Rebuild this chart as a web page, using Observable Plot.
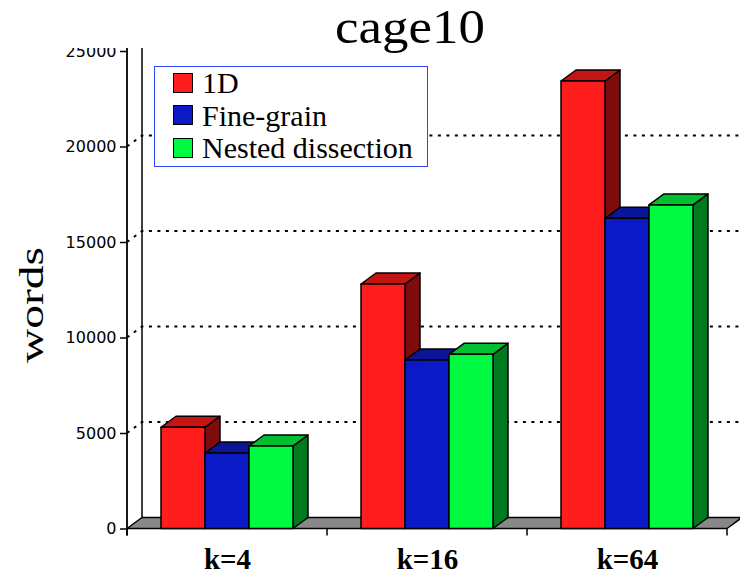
<!DOCTYPE html>
<html>
<head>
<meta charset="utf-8">
<script src="https://cdn.jsdelivr.net/npm/d3@7"></script>
<script src="https://cdn.jsdelivr.net/npm/@observablehq/plot@0.6"></script>
<style>
  html, body { margin: 0; padding: 0; background: #fff; }
  #wrap { position: relative; width: 740px; height: 574px; overflow: hidden; }
  #chart { position: absolute; left: 0; top: 0; }
  #cover {
    position: absolute; left: 0; top: 0; width: 740px; height: 48px; background: #fff;
  }
  #title {
    position: absolute; left: 410px; top: 2px;
    font: 49px/1 "Liberation Serif", "Times New Roman", serif;
    transform: translateX(-50%) scaleX(1.08); white-space: nowrap;
  }
  #legend {
    position: absolute; left: 154px; top: 66px; width: 272px; height: 99px;
    border: 1.5px solid #2b45ff; background: #fff;
  }
  .row { position: absolute; left: 0; height: 32px; width: 270px; }
  .swatch {
    position: absolute; left: 18px; width: 18px; height: 18px;
    border: 1.5px solid #000;
  }
  .label {
    position: absolute; left: 47px; top: 0;
    font: 30px/32px "Liberation Serif", "Times New Roman", serif; white-space: nowrap;
  }
  svg .vtick text { font: 16px "DejaVu Sans", Verdana, sans-serif; }
</style>
</head>
<body>
<div id="wrap">
  <div id="chart"></div>
  <div id="cover"></div>
  <div id="title">cage10</div>
  <div id="legend"></div>
</div>
<script>
// Problem sizes and partitioning methods
const groups = ["k=4", "k=16", "k=64"];
const methods = ["1D", "Fine-grain", "Nested dissection"];

// Communication volume (words) per method, one value per k
const words1D = [5300, 12800, 23430];
const wordsFineGrain = [3950, 8820, 16240];
const wordsNested = [4320, 9120, 16940];

const yTicks = [0, 5000, 10000, 15000, 20000, 25000];
const gridTicks = [5000, 10000, 15000, 20000];

// Face colours: front, top, side
const frontColors = ["#ff1c1c", "#0b1ac6", "#00fa42"];
const topColors = ["#c41414", "#0a1597", "#00bf30"];
const sideColors = ["#7f0c0c", "#060d60", "#007a1e"];

const rows = [];
[words1D, wordsFineGrain, wordsNested].forEach((vals, m) =>
  vals.forEach((v, g) => rows.push({k: groups[g], method: methods[m], m, words: v}))
);

// Layout
const WIDTH = 740, HEIGHT = 574;
const ML = 127, MR = 13, MT = 51, MB = 45.5;
const BAND = (WIDTH - ML - MR) / groups.length;
const BAR_W = 44;
const DX = 15, DY = -11; // oblique depth of the 3-D projection

const svgNS = "http://www.w3.org/2000/svg";
function poly(points, fill) {
  const p = document.createElementNS(svgNS, "polygon");
  p.setAttribute("points", points.map((d) => d.join(",")).join(" "));
  p.setAttribute("fill", fill);
  p.setAttribute("stroke", "#000");
  p.setAttribute("stroke-width", 1.5);
  p.setAttribute("stroke-linejoin", "round");
  return p;
}

// Adds the top and right-hand side faces behind each front rectangle
function solid(topFill, sideFill) {
  return function (index, scales, values, dimensions, context, next) {
    const g = next(index, scales, values, dimensions, context);
    g.querySelectorAll("rect").forEach((rect) => {
      const x0 = +rect.getAttribute("x");
      const y0 = +rect.getAttribute("y");
      const w = +rect.getAttribute("width");
      const h = +rect.getAttribute("height");
      const x1 = x0 + w, yb = y0 + h;
      const side = poly([[x1, yb], [x1, y0], [x1 + DX, y0 + DY], [x1 + DX, yb + DY]], sideFill);
      const top = poly([[x0, y0], [x1, y0], [x1 + DX, y0 + DY], [x0 + DX, y0 + DY]], topFill);
      rect.parentNode.insertBefore(side, rect);
      rect.parentNode.insertBefore(top, rect);
    });
    return g;
  };
}

// Floor, back wall, dotted back gridlines and the front axes
function backdrop(index, {x, y}, values, {width, marginLeft, marginRight}) {
  const g = d3.create("svg:g");
  const left = marginLeft, right = width - marginRight;
  const y0 = y(0);
  g.append("polygon")
    .attr("points", [[left, y0], [right, y0], [right + DX, y0 + DY], [left + DX, y0 + DY]].map((d) => d.join(",")).join(" "))
    .attr("fill", "#888")
    .attr("stroke", "#000")
    .attr("stroke-width", 1.5)
    .attr("stroke-linejoin", "round");
  for (const t of gridTicks) {
    const yt = y(t);
    g.append("path")
      .attr("d", `M${left},${yt}L${left + DX},${yt + DY}L${right + DX},${yt + DY}`)
      .attr("fill", "none")
      .attr("stroke", "#000")
      .attr("stroke-width", 2)
      .attr("stroke-dasharray", "3,5.5");
  }
  // back wall edge
  g.append("line")
    .attr("x1", left + DX).attr("x2", left + DX)
    .attr("y1", y0 + DY).attr("y2", y(yTicks[yTicks.length - 1]) + DY)
    .attr("stroke", "#000").attr("stroke-width", 1.5);
  // front value axis
  g.append("line")
    .attr("x1", left).attr("x2", left)
    .attr("y1", y0 + 7).attr("y2", y(yTicks[yTicks.length - 1]) - 4)
    .attr("stroke", "#000").attr("stroke-width", 1.8);
  // category boundaries on the front edge
  const bounds = groups.map((k) => x(k)).concat([x(groups[groups.length - 1]) + x.bandwidth()]);
  for (const b of bounds) {
    g.append("line")
      .attr("x1", b).attr("x2", b).attr("y1", y0).attr("y2", y0 + 7)
      .attr("stroke", "#000").attr("stroke-width", 1.5);
  }
  return g.node();
}

const barMarks = methods.map((name, m) => {
  const insetLeft = (BAND - methods.length * BAR_W) / 2 + m * BAR_W;
  return Plot.barY(rows.filter((d) => d.m === m), {
    x: "k",
    y: "words",
    fill: frontColors[m],
    stroke: "#000",
    strokeWidth: 1.5,
    strokeLinejoin: "round",
    insetLeft,
    insetRight: BAND - insetLeft - BAR_W,
    render: solid(topColors[m], sideColors[m])
  });
});

const chart = Plot.plot({
  width: WIDTH,
  height: HEIGHT,
  marginLeft: ML,
  marginRight: MR,
  marginTop: MT,
  marginBottom: MB,
  style: {fontFamily: "DejaVu Sans", background: "#fff", overflow: "visible"},
  x: {type: "band", domain: groups, padding: 0, label: null},
  y: {domain: [0, 25000], label: null},
  marks: [
    backdrop,
    Plot.axisY({
      ticks: yTicks,
      tickFormat: d3.format("d"),
      tickSize: 7,
      tickPadding: 4,
      strokeWidth: 1.5,
      className: "vtick",
      label: null
    }),
    Plot.axisX({
      tickSize: 0,
      tickPadding: 19,
      fontSize: 29,
      fontWeight: "bold",
      fontFamily: "Liberation Serif",
      label: null
    }),
    ...barMarks
  ]
});

// numeric tick labels: larger sans face
chart.querySelectorAll("text").forEach((t) => {
  if (/^\d+$/.test(t.textContent.trim())) {
    t.setAttribute("font-size", "16");
    t.style.fontSize = "16px";
    t.style.fontFamily = "'DejaVu Sans', sans-serif";
  }
});

// rotated value-axis title
d3.select(chart).append("text")
  .attr("transform", "translate(43,305) rotate(-90)")
  .attr("text-anchor", "middle")
  .attr("font-family", "Liberation Serif")
  .attr("font-size", 33)
  .attr("textLength", 116)
  .attr("lengthAdjust", "spacingAndGlyphs")
  .attr("fill", "#000")
  .text("words");

document.getElementById("chart").appendChild(chart);

// legend
const legend = document.getElementById("legend");
const rowTops = [0, 32.5, 65];
methods.forEach((name, m) => {
  const row = document.createElement("div");
  row.className = "row";
  row.style.top = rowTops[m] + "px";
  const sw = document.createElement("div");
  sw.className = "swatch";
  sw.style.top = "5.5px";
  sw.style.background = frontColors[m];
  const lab = document.createElement("div");
  lab.className = "label";
  lab.textContent = name;
  row.appendChild(sw);
  row.appendChild(lab);
  legend.appendChild(row);
});
</script>
</body>
</html>
